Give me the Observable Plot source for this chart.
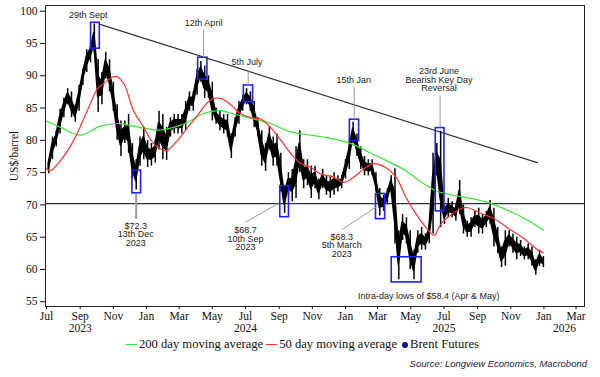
<!DOCTYPE html>
<html><head><meta charset="utf-8">
<script src="https://cdn.jsdelivr.net/npm/d3@7"></script>
<script src="https://cdn.jsdelivr.net/npm/@observablehq/plot@0.6"></script>
<style>
body{margin:0;background:#fff;width:600px;height:377px;overflow:hidden;position:relative;font-family:"Liberation Sans",Arial,sans-serif}
#chart{position:absolute;left:0;top:0}
#legend{position:absolute;left:126px;top:337px;font-family:"Liberation Serif",serif;font-size:12.6px;display:flex;align-items:center;white-space:nowrap;color:#111}
.sw{display:inline-block;width:11px;height:0;border-top:1.2px solid;margin-right:2px}
.dot{display:inline-block;width:6px;height:6px;border-radius:50%;background:#0a1a8c;margin:0 2px 0 5px}
#source{position:absolute;right:13px;top:358px;font-style:italic;font-size:9.5px;color:#1a1a40}
</style></head><body>
<div id="chart"></div>
<div id="legend"><span class="sw" style="border-color:#3ee23e"></span>200 day moving average<span class="sw" style="border-color:#ff3030;margin-left:3px"></span>50 day moving average<span class="dot"></span>Brent Futures</div>
<div id="source">Source: Longview Economics, Macrobond</div>
<script>
// Weekly Brent futures ranges (Mondays Jul 3 2023 .. Dec 29 2025)
const weekLow = [
 74.8,77.0,79.0,81.0,83.5,85.5,83.5,82.8,84.5,88.5,90.5,92.0,93.5,84.3,85.5,89.5,87.5,84.5,80.0,77.5,79.5,78.0,74.0,72.3,76.0,77.0,
 75.8,76.0,76.5,78.5,77.0,76.9,80.5,81.0,81.0,81.0,81.5,84.5,84.5,87.0,89.0,86.5,86.5,83.0,82.5,81.5,81.0,80.5,77.2,80.5,82.5,84.5,
 85.5,84.5,82.0,80.5,76.0,75.2,78.5,76.0,76.0,72.0,68.7,71.5,70.5,71.0,75.0,72.5,73.0,71.0,72.5,70.8,72.5,71.5,71.0,71.5,72.0,72.5,74.0,
 75.5,79.5,77.5,75.5,74.5,74.5,74.5,72.0,68.3,69.0,70.0,72.0,64.0,58.4,64.5,64.0,60.0,58.4,62.5,63.0,63.0,64.0,65.5,74.5,66.5,
 67.0,68.0,68.0,67.5,68.5,65.5,65.0,65.0,66.5,65.5,65.5,66.5,67.0,63.5,62.5,60.3,60.5,63.5,62.5,61.5,62.0,61.5,61.5,60.5,59.1,60.5,60.3
];
const weekHigh = [
 77.0,80.5,81.5,84.8,86.5,88.0,87.5,85.5,88.5,91.0,94.0,95.0,98.0,92.5,90.5,93.6,92.5,89.0,85.5,83.0,83.0,84.0,79.5,77.0,80.5,82.0,
 80.0,79.5,80.0,84.5,84.0,82.0,83.5,84.0,84.0,84.0,86.0,87.5,87.5,91.0,92.2,91.5,90.0,89.0,85.0,84.5,84.0,84.0,81.0,83.5,86.0,87.0,
 88.0,87.5,86.0,83.5,81.5,79.5,82.0,80.5,81.0,78.0,73.0,75.0,75.5,79.0,81.5,77.0,77.0,76.0,76.0,74.0,75.5,74.5,74.5,75.0,74.5,74.5,77.0,
 80.0,82.8,81.0,79.0,77.5,77.0,77.0,75.0,72.5,71.5,72.5,74.5,75.6,66.0,68.5,68.0,66.0,63.0,66.0,66.5,65.5,67.0,78.0,79.5,81.4,
 70.0,71.0,70.5,70.0,73.8,70.0,67.5,68.0,69.0,69.5,68.5,69.0,70.7,69.5,66.5,63.5,66.0,66.0,65.5,65.0,64.5,63.5,64.0,63.5,61.5,63.0,62.0
];
const weeks = d3.utcMonday.range(new Date("2023-07-03"), new Date("2026-01-01"));

// 200 day moving average (green)
const ma200Dates = ["2023-07-01","2023-07-27","2023-09-02","2023-10-08","2023-11-14","2023-12-08","2024-01-03","2024-01-27","2024-02-20","2024-03-17","2024-04-10","2024-05-16","2024-06-04","2024-07-11","2024-08-16","2024-09-22","2024-10-29","2024-12-05","2025-01-11","2025-02-17","2025-03-16","2025-04-22","2025-05-16","2025-06-16","2025-07-18","2025-08-20","2025-09-26","2025-11-07","2025-12-08","2025-12-31"];
const ma200Vals = [83.0,82.0,80.8,82.2,82.6,82.2,81.8,81.6,82.0,82.8,84.0,84.6,84.2,83.4,82.6,81.3,80.8,80.3,79.5,78.0,76.9,75.3,73.8,72.2,71.5,71.0,70.2,68.7,67.3,66.1];
// 50 day moving average (red)
const ma50Dates = ["2023-07-01","2023-07-08","2023-07-27","2023-08-20","2023-09-14","2023-10-03","2023-10-14","2023-11-05","2023-11-20","2023-12-08","2023-12-27","2024-01-14","2024-02-05","2024-02-25","2024-03-17","2024-04-05","2024-04-28","2024-05-16","2024-06-04","2024-06-22","2024-07-11","2024-07-29","2024-08-16","2024-09-04","2024-09-22","2024-10-11","2024-10-29","2024-11-16","2024-12-10","2024-12-29","2025-01-16","2025-02-04","2025-02-22","2025-03-16","2025-04-04","2025-04-22","2025-05-10","2025-05-29","2025-06-13","2025-06-25","2025-07-18","2025-08-10","2025-09-07","2025-10-01","2025-11-01","2025-11-25","2025-12-21","2025-12-31"];
const ma50Vals = [75.6,75.3,76.9,80.0,84.6,88.0,88.8,89.9,88.8,84.6,82.0,79.5,78.4,79.8,82.0,84.0,86.3,86.5,85.5,84.1,83.5,83.3,82.0,80.0,78.0,76.4,75.8,74.8,74.3,73.5,74.3,75.6,76.4,75.8,74.3,71.2,68.7,66.5,65.3,67.0,68.7,69.6,68.7,67.9,66.1,64.8,63.0,62.6];

// Highlight boxes
const boxStart = ["2023-09-21","2023-12-06","2024-04-05","2024-06-28","2024-09-03","2025-01-09","2025-02-26","2025-03-27","2025-06-16"];
const boxEnd   = ["2023-10-07","2023-12-22","2024-04-22","2024-07-15","2024-09-19","2025-01-26","2025-03-15","2025-05-21","2025-07-02"];
const boxLow   = [94.2,71.8,89.4,85.9,68.1,79.9,67.8,58.0,69.0];
const boxHigh  = [98.2,75.3,92.8,88.5,72.9,83.2,71.7,61.9,81.9];

// Annotations
const noteText = ["29th Sept","12th April","5th July","15th Jan","23rd June\nBearish Key Day\nReversal","$72.3\n13th Dec\n2023","$68.7\n10th Sep\n2023","$68.3\n5th March\n2023","Intra-day lows of $58.4 (Apr & May)"];
const noteDate = ["2023-09-16","2024-04-15","2024-07-04","2025-01-16","2025-06-22","2023-12-12","2024-07-01","2024-12-25","2025-06-03"];
const noteVal  = [99.33,98.10,92.06,89.27,89.35,65.42,64.76,63.72,55.82];
// Leader lines
const leadD1 = ["2024-04-15","2024-07-06","2025-01-17","2025-06-24","2023-12-13","2024-07-01","2024-12-26"];
const leadV1 = [97.1,90.8,88.2,86.95,71.73,67.34,66.2];
const leadD2 = ["2024-04-15","2024-07-06","2025-01-17","2025-06-24","2023-12-13","2024-08-30","2025-02-26"];
const leadV2 = [92.8,88.5,83.2,82.0,67.86,70.19,69.66];
// Resistance trend line and support level
const trendDates = ["2023-10-06","2025-12-21"];
const trendVals = [98.0,76.5];
const supportLevel = 70.2;

const yTicks = [55,60,65,70,75,80,85,90,95,100];
const yearLabels = ["2023","2024","2025","2026"];
const yearDates = ["2023-09-01","2024-07-01","2025-07-01","2026-02-08"];

const D = s => new Date(s);
const price = weeks.map((w,i)=>{
  const lo = weekLow[i], hi = weekHigh[i], r = hi - lo;
  return {x:d3.utcDay.offset(w,2), lo, hi, c1: lo + r*0.3, c2: hi - r*0.3};
});
const ma200 = ma200Dates.map((d,i)=>({x:D(d), y:ma200Vals[i]}));
const ma50 = ma50Dates.map((d,i)=>({x:D(d), y:ma50Vals[i]}));
const boxes = boxStart.map((d,i)=>({x1:D(d), x2:D(boxEnd[i]), y1:boxLow[i], y2:boxHigh[i]}));
const notes = noteText.map((t,i)=>({t, x:D(noteDate[i]), y:noteVal[i]}));
const leads = leadD1.map((d,i)=>({x1:D(d), y1:leadV1[i], x2:D(leadD2[i]), y2:leadV2[i], w: i===4?2:1}));
const trend = [{x1:D(trendDates[0]), y1:trendVals[0], x2:D(trendDates[1]), y2:trendVals[1]}];
const years = yearLabels.map((t,i)=>({t, x:D(yearDates[i])}));
const monthTicks = d3.utcMonth.every(2).range(D("2023-07-01"), D("2026-03-02"));

const chart = Plot.plot({
  width:600, height:336, marginLeft:45, marginRight:16, marginTop:5, marginBottom:30,
  style:{fontFamily:"'Liberation Serif',serif", fontSize:"11px", color:"#111", background:"#fff", overflow:"visible"},
  x:{type:"utc", domain:[D("2023-06-29T04:00Z"), D("2026-03-16T14:00Z")]},
  y:{domain:[54.27,100.88]},
  marks:[
    Plot.ruleY([supportLevel], {stroke:"#333", strokeWidth:1.2}),
    Plot.link(trend, {x1:"x1", y1:"y1", x2:"x2", y2:"y2", stroke:"#333", strokeWidth:1.2}),
    Plot.areaY(price, {x:"x", y1:"c1", y2:"c2", fill:"#000", stroke:"#000", strokeWidth:1.5, curve:"linear"}),
    Plot.ruleX(price, {x:"x", y1:"lo", y2:"hi", stroke:"#000", strokeWidth:1.5}),
    Plot.line(ma200, {x:"x", y:"y", stroke:"#3ee23e", strokeWidth:1.2, curve:"catmull-rom"}),
    Plot.line(ma50, {x:"x", y:"y", stroke:"#ff3030", strokeWidth:1.2, curve:"catmull-rom"}),
    Plot.rect(boxes, {x1:"x1", x2:"x2", y1:"y1", y2:"y2", stroke:"#2020ff", fill:"none", strokeWidth:1.6}),
    Plot.link(leads, {x1:"x1", y1:"y1", x2:"x2", y2:"y2", stroke:"#9a9a9a", strokeWidth:"w"}),
    Plot.text(notes, {x:"x", y:"y", text:"t", fontFamily:"'Liberation Sans',Arial,sans-serif", fontSize:9, fill:"#222", lineHeight:0.95, lineAnchor:"middle"}),
    Plot.axisY({ticks:yTicks, tickSize:5, tickPadding:3, label:"US$/barrel", labelAnchor:"center", labelArrow:"none", labelOffset:36, fontSize:11.5}),
    Plot.axisX({ticks:monthTicks, tickFormat:d3.utcFormat("%b"), tickSize:3, tickPadding:2, label:null, fontSize:11.5}),
    Plot.text(years, {x:"x", text:"t", frameAnchor:"bottom", dy:22, fontSize:11.5, lineAnchor:"middle", fill:"#111"}),
    Plot.frame({stroke:"#222", strokeWidth:1})
  ]
});
document.getElementById("chart").appendChild(chart);
</script></body></html>
